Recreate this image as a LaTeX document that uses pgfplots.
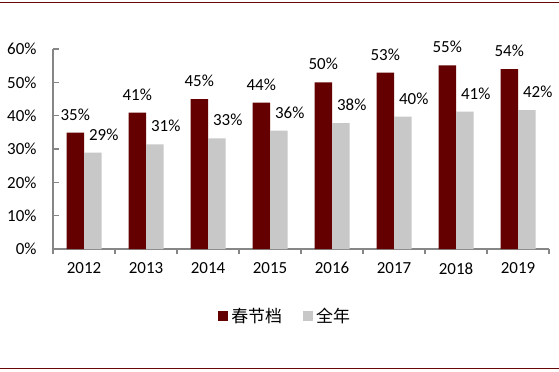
\documentclass[border=0pt]{standalone}
\usepackage{pgfplots}
\pgfplotsset{compat=1.18}
\usepackage{fontspec}
\setmainfont{Carlito}
\newfontfamily\cjk{Noto Sans CJK SC}
\definecolor{dred}{RGB}{100,0,0}
\definecolor{lgray}{RGB}{200,200,200}
\definecolor{axgray}{RGB}{134,134,134}
\definecolor{linered}{RGB}{105,8,8}
\begin{document}
\begin{tikzpicture}[x=1bp,y=1bp]
\useasboundingbox (0,0) rectangle (559,371);
\fill[white] (0,0) rectangle (559,371);
\draw[linered, line width=1.8bp] (0,368.5) -- (559,368.5);
\draw[linered, line width=1.8bp] (0,2.5) -- (559,2.5);
\begin{axis}[
  at={(53bp,122bp)}, anchor=south west,
  scale only axis, width=496bp, height=200bp,
  xmin=-0.5, xmax=7.5, ymin=0, ymax=60,
  ybar=0pt, bar width=17.5bp,
  axis x line*=bottom, axis y line*=left,
  axis line style={axgray, line width=1.4bp},
  tick align=inside,
  tick style={axgray, line width=1.4bp},
  major tick length=6bp,
  minor tick length=5bp,
  xtick={0,...,7},
  xticklabels={2012,2013,2014,2015,2016,2017,2018,2019},
  major x tick style={draw=none},
  minor xtick={-0.5,0.5,...,7.5},
  minor x tick style={yshift=-5bp},
  ytick={0,10,...,60},
  yticklabel={\pgfmathprintnumber{\tick}\%},
  /pgf/number format/assume math mode=true,
  ticklabel style={font=\fontsize{17}{20}\selectfont},
  yticklabel style={xshift=-13bp},
  xticklabel style={yshift=-10bp},
  nodes near coords={\pgfmathprintnumber[fixed,precision=0]{\pgfplotspointmeta}\%},
  every node near coord/.append style={font=\fontsize{17}{20}\selectfont, yshift=9bp, black},
  legend style={at={(0.469,-0.335)}, anchor=center, draw=none, fill=none,
    legend columns=2, font=\fontsize{17}{20}\selectfont\cjk,
    nodes={inner xsep=3.5bp},
    /tikz/every even column/.append style={column sep=12bp}},
  legend cell align=left,
  legend image code/.code={\fill[#1] (0bp,-5bp) rectangle (10bp,5bp);},
]
\addplot[fill=dred, draw=none] coordinates {(0,34.9) (1,40.9) (2,45.0) (3,43.9) (4,50.0) (5,52.9) (6,55.1) (7,54.0)};
\addplot[fill=lgray, draw=none, every node near coord/.append style={xshift=11bp}] coordinates {(0,28.9) (1,31.4) (2,33.2) (3,35.5) (4,37.8) (5,39.7) (6,41.2) (7,41.7)};
\legend{春节档\hspace*{5bp},全年}
\end{axis}
\end{tikzpicture}
\end{document}
